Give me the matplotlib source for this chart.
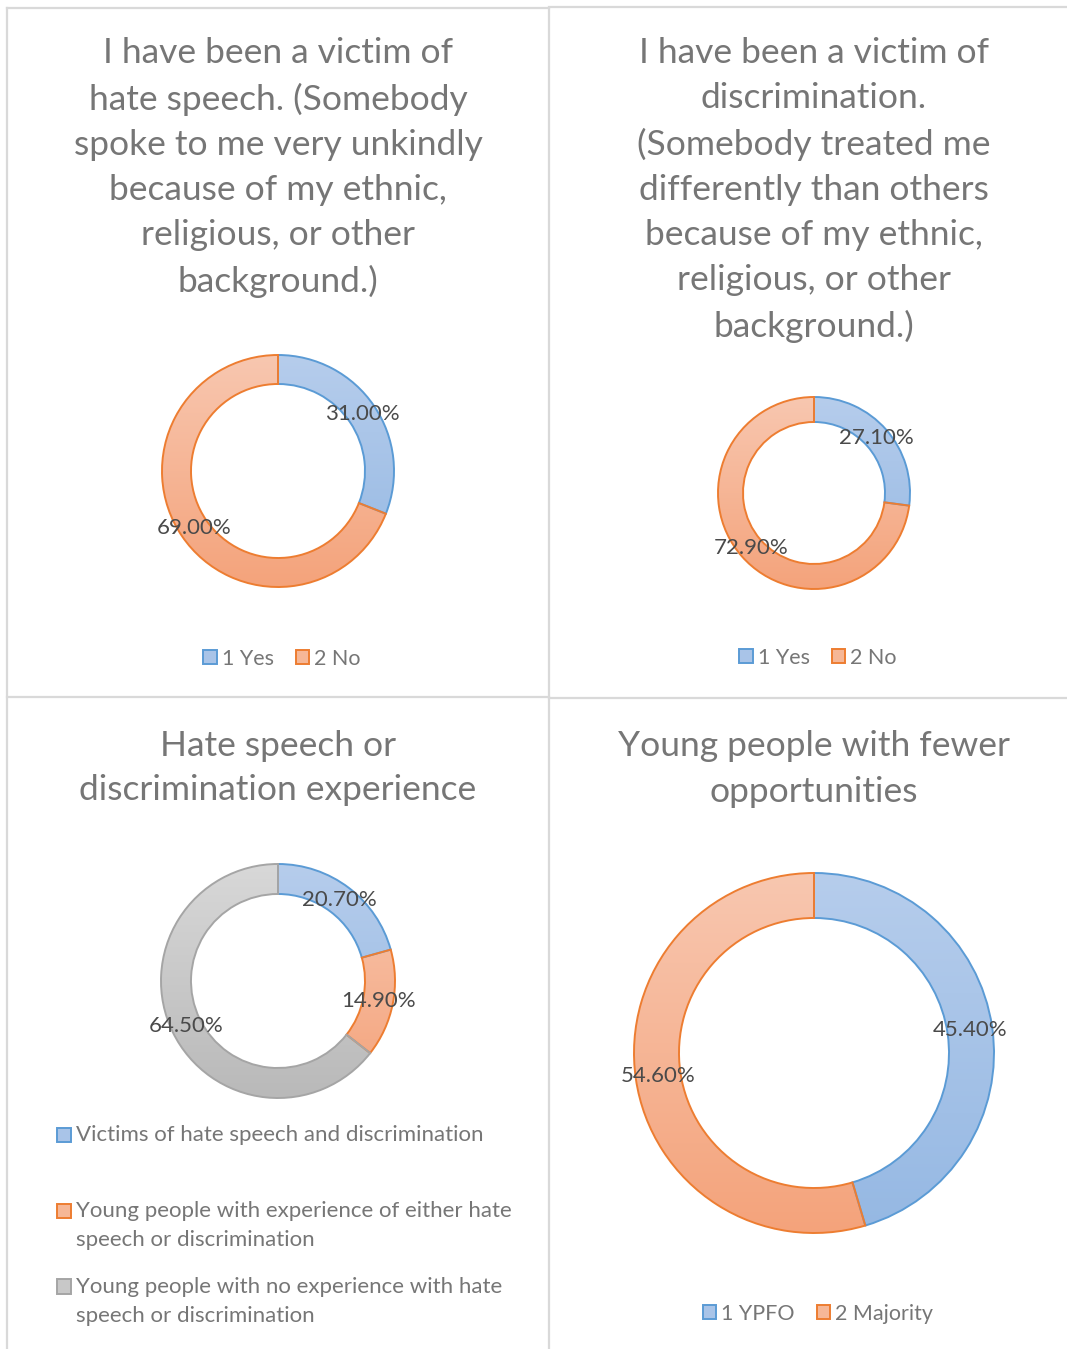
import matplotlib
matplotlib.use('Agg')
import matplotlib.pyplot as plt
import numpy as np
from matplotlib.patches import Patch, Rectangle
from matplotlib.lines import Line2D
from matplotlib.colors import LinearSegmentedColormap
from matplotlib.legend_handler import HandlerPatch

W, H = 1067, 1349
plt.rcParams['font.family'] = ['Lato', 'DejaVu Sans']

# ---------------- data ----------------
title_hate = "I have been a victim of\nhate speech. (Somebody\nspoke to me very unkindly\nbecause of my ethnic,\nreligious, or other\nbackground.)"
title_discr = "I have been a victim of\ndiscrimination.\n(Somebody treated me\ndifferently than others\nbecause of my ethnic,\nreligious, or other\nbackground.)"
title_exp = "Hate speech or\ndiscrimination experience"
title_ypfo = "Young people with fewer\nopportunities"

hate_labels = ["1 Yes", "2 No"]
hate_values = [31.00, 69.00]
discr_labels = ["1 Yes", "2 No"]
discr_values = [27.10, 72.90]
exp_labels = ["Victims of hate speech and discrimination\n ",
              "Young people with experience of either hate\nspeech or discrimination",
              "Young people with no experience with hate\nspeech or discrimination"]
exp_values = [20.70, 14.90, 64.50]
ypfo_labels = ["1 YPFO", "2 Majority"]
ypfo_values = [45.40, 54.60]

# ---------------- styles ----------------
BLUE = dict(top="#b6cdec", bot="#95b8e3", edge="#5b9bd5", leg="#a9c4e8")
ORANGE = dict(top="#f8c7b0", bot="#f4a37b", edge="#ed7d31", leg="#f6b796")
GREY = dict(top="#d8d8d8", bot="#b9b9b9", edge="#a5a5a5", leg="#c8c8c8")
TITLE_C = "#767676"
LEG_C = "#767676"
LBL_C = "#4a4a4a"

fig = plt.figure(figsize=(W / 100, H / 100), dpi=100)
ax = fig.add_axes([0, 0, 1, 1])


def donut(values, center, r_out, r_in, styles):
    cx, cy = center[0], H - center[1]
    wedges, _ = ax.pie(values, center=(cx, cy), radius=r_out, startangle=90,
                       counterclock=False,
                       wedgeprops=dict(width=r_out - r_in, linewidth=1.4))
    grad = np.linspace(0, 1, 256).reshape(-1, 1)
    for w, st, v in zip(wedges, styles, values):
        w.set_facecolor('none')
        w.set_edgecolor(st["edge"])
        w.set_zorder(3)
        cmap = LinearSegmentedColormap.from_list("g", [st["bot"], st["top"]])
        im = ax.imshow(grad, cmap=cmap, origin='lower', aspect='auto',
                       extent=(cx - r_out, cx + r_out, cy - r_out, cy + r_out),
                       zorder=2, interpolation='bilinear')
        im.set_clip_path(w)
        th = np.deg2rad((w.theta1 + w.theta2) / 2)
        rm = (r_out + r_in) / 2
        ax.text(cx + rm * np.cos(th), cy + rm * np.sin(th), f"{v:.2f}%",
                ha='center', va='center', fontsize=16, color=LBL_C, zorder=5)


donut(hate_values, (278, 471), 116, 87, [BLUE, ORANGE])
donut(discr_values, (814, 493), 96, 71, [BLUE, ORANGE])
donut(exp_values, (278, 981), 117, 87, [BLUE, ORANGE, GREY])
donut(ypfo_values, (814, 1053), 180, 135, [BLUE, ORANGE])

# titles
tkw = dict(ha='center', va='center', fontsize=25.5, color=TITLE_C, linespacing=1.5)
ax.text(278, H - 167.5, title_hate, **tkw)
ax.text(814, H - 190, title_discr, **tkw)
ax.text(278, H - 768, title_exp, **tkw)
ax.text(814, H - 769, title_ypfo, **tkw)


class TopPatch(HandlerPatch):
    def __init__(self, shift=0.0):
        super().__init__()
        self.shift = shift

    def create_artists(self, legend, orig_handle, xdescent, ydescent, width,
                       height, fontsize, trans):
        p = Rectangle((-xdescent, -ydescent + self.shift), width, height)
        self.update_prop(p, orig_handle, legend)
        p.set_transform(trans)
        return [p]


def handles(styles):
    return [Patch(facecolor=s["leg"], edgecolor=s["edge"], linewidth=1.4) for s in styles]


lkw = dict(frameon=False, handlelength=0.62, handleheight=0.62, handletextpad=0.25,
           labelcolor=LEG_C, bbox_transform=ax.transData, borderpad=0,
           borderaxespad=0)
leg1 = ax.legend(handles([BLUE, ORANGE]), hate_labels, loc='center', ncol=2,
                 fontsize=15.5, columnspacing=1.0, bbox_to_anchor=(282, H - 659), **lkw)
ax.add_artist(leg1)
leg2 = ax.legend(handles([BLUE, ORANGE]), discr_labels, loc='center', ncol=2,
                 fontsize=15.5, columnspacing=1.0, bbox_to_anchor=(818, H - 658), **lkw)
ax.add_artist(leg2)
leg4 = ax.legend(handles([BLUE, ORANGE]), ypfo_labels, loc='center', ncol=2,
                 fontsize=15.5, columnspacing=1.0, bbox_to_anchor=(818, H - 1314), **lkw)
ax.add_artist(leg4)

h3 = handles([BLUE, ORANGE, GREY])
leg3 = ax.legend(h3, exp_labels, loc='upper left', ncol=1, fontsize=16,
                 labelspacing=1.22, bbox_to_anchor=(57, H - 1125),
                 handler_map={h: TopPatch(10.6) for h in h3}, **lkw)
for t in leg3.get_texts():
    t.set_linespacing(1.55)

# panel borders
bc = "#d9d9d9"
segs = [((7, 8), (7, 1349)), ((549, 8), (549, 1349)), ((7, 8), (549, 8)),
        ((549, 7), (1067, 7)), ((7, 697), (549, 697)), ((549, 698), (1067, 698))]
for (x0, y0), (x1, y1) in segs:
    ax.add_line(Line2D([x0, x1], [H - y0, H - y1], color=bc, lw=1.6, zorder=1))

ax.set_xlim(0, W)
ax.set_ylim(0, H)
ax.set_aspect('auto')
ax.set_position([0, 0, 1, 1])
ax.axis('off')
fig.savefig("out.png", dpi=100)
